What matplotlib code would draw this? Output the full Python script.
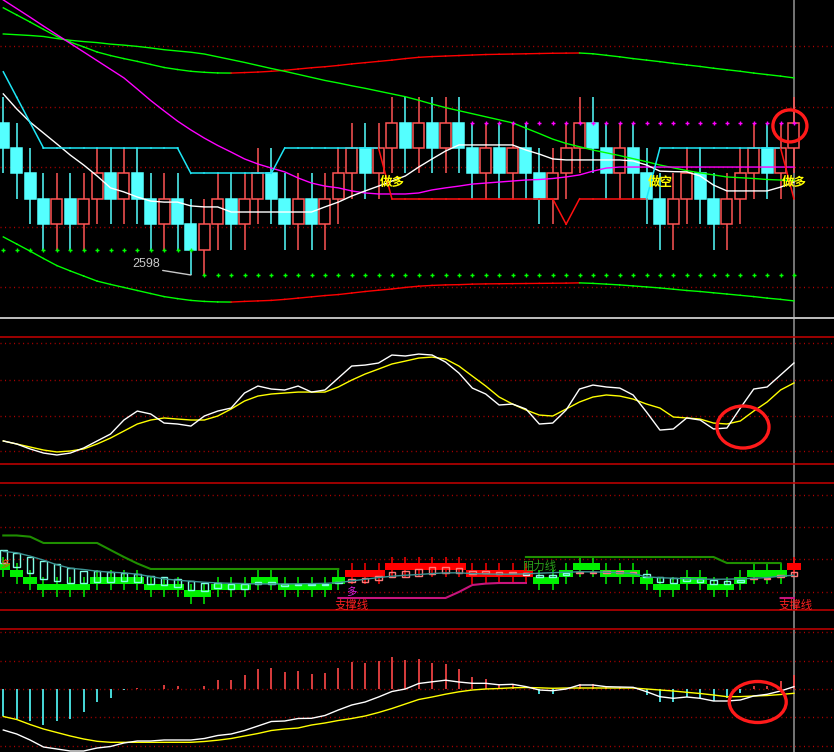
import matplotlib
matplotlib.use('Agg')
import matplotlib.pyplot as plt
from matplotlib.patches import Ellipse
import numpy as np

plt.rcParams['font.family'] = ['Noto Sans CJK SC', 'DejaVu Sans']

# ---------------- data: main panel (grid candles, price levels) ----------------
opens = [6, 5, 4, 3, 2, 3, 2, 3, 4, 3, 4, 3, 2, 3, 2, 1, 2, 3, 2, 3,
         4, 3, 2, 3, 2, 3, 4, 5, 4, 5, 6, 5, 6, 5, 6, 5, 4, 5, 4, 5,
         4, 3, 4, 5, 6, 5, 4, 5, 4, 3, 2, 3, 4, 3, 2, 3, 4, 5, 4, 5]
closes = [5, 4, 3, 2, 3, 2, 3, 4, 3, 4, 3, 2, 3, 2, 1, 2, 3, 2, 3, 4,
          3, 2, 3, 2, 3, 4, 5, 4, 5, 6, 5, 6, 5, 6, 5, 4, 5, 4, 5, 4,
          3, 4, 5, 6, 5, 4, 5, 4, 3, 2, 3, 4, 3, 2, 3, 4, 5, 4, 5, 6]
highs = [7, 6, 5, 4, 4, 4, 4, 5, 5, 5, 5, 4, 4, 4, 3, 3, 4, 4, 4, 5,
         5, 4, 4, 4, 4, 5, 6, 6, 6, 7, 7, 7, 7, 7, 7, 6, 6, 6, 6, 6,
         5, 5, 6, 7, 7, 6, 6, 6, 5, 4, 4, 5, 5, 4, 4, 5, 6, 6, 6, 7]
lows = [4, 3, 2, 1, 1, 1, 1, 2, 2, 2, 2, 1, 1, 1, 0, 0, 1, 1, 1, 2,
        2, 1, 1, 1, 1, 2, 3, 3, 3, 4, 4, 4, 4, 4, 4, 3, 3, 3, 3, 3,
        2, 2, 3, 4, 4, 3, 3, 3, 2, 1, 1, 2, 2, 1, 1, 2, 3, 3, 3, 4]
low_price_label = '2598'

# trailing stop line and its side (1 = long / red, 0 = short / cyan)
stop = [8, 7, 6, 5, 5, 5, 5, 5, 5, 5, 5, 5, 5, 5, 4, 4, 4, 4, 4, 4,
        4, 5, 5, 5, 5, 5, 5, 5, 5, 3, 3, 3, 3, 3, 3, 3, 3, 3, 3, 3,
        3, 3, 2, 3, 3, 3, 3, 3, 3, 5, 5, 5, 5, 5, 5, 5, 5, 5, 5, 3]
stop_side = [0, 0, 0, 0, 0, 0, 0, 0, 0, 0, 0, 0, 0, 0, 0, 0, 0, 0, 0, 0,
             0, 0, 0, 0, 0, 0, 0, 0, 0, 1, 1, 1, 1, 1, 1, 1, 1, 1, 1, 1,
             1, 1, 1, 1, 1, 1, 1, 1, 1, 0, 0, 0, 0, 0, 0, 0, 0, 0, 0, 1]
signal_text = {1: '做多', 0: '做空'}

ma_white = [7.13, 6.54, 6.02, 5.59, 5.16, 4.72, 4.33, 3.90, 3.43, 3.27,
            3.07, 2.91, 2.87, 2.87, 2.72, 2.68, 2.68, 2.48, 2.48, 2.48,
            2.48, 2.48, 2.48, 2.48, 2.68, 2.87, 3.11, 3.31, 3.50, 3.70,
            3.90, 4.25, 4.57, 4.88, 5.12, 5.12, 5.12, 5.12, 5.12, 4.92,
            4.76, 4.57, 4.53, 4.53, 4.53, 4.53, 4.53, 4.49, 4.33, 4.09,
            4.07, 4.06, 3.90, 3.54, 3.31, 3.31, 3.31, 3.31, 3.46, 3.66]
ma_magenta = [10.83, 10.49, 10.15, 9.80, 9.46, 9.12, 8.78, 8.44, 8.10, 7.76,
              7.32, 6.87, 6.46, 6.06, 5.71, 5.39, 5.10, 4.84, 4.57, 4.37,
              4.21, 4.06, 3.82, 3.62, 3.50, 3.43, 3.31, 3.23, 3.19, 3.19,
              3.19, 3.23, 3.35, 3.43, 3.50, 3.58, 3.62, 3.66, 3.70, 3.74,
              3.76, 3.80, 3.86, 3.94, 4.09, 4.21, 4.25, 4.25, 4.25, 4.25,
              4.25, 4.25, 4.25, 4.25, 4.25, 4.25, 4.25, 4.25, 4.25, 4.25]
ma_green = [9.49, 9.46, 9.43, 9.39, 9.31, 9.24, 9.19, 9.15, 9.09, 9.05,
            9.00, 8.94, 8.87, 8.82, 8.77, 8.70, 8.59, 8.48, 8.37, 8.25,
            8.13, 8.02, 7.90, 7.78, 7.66, 7.56, 7.45, 7.35, 7.24, 7.13,
            7.02, 6.88, 6.73, 6.59, 6.47, 6.35, 6.23, 6.11, 5.99, 5.78,
            5.57, 5.35, 5.18, 5.05, 4.92, 4.81, 4.70, 4.58, 4.46, 4.33,
            4.22, 4.11, 4.02, 3.94, 3.86, 3.83, 3.80, 3.76, 3.74, 3.72]
band_up = [10.52, 10.24, 9.96, 9.67, 9.39, 9.17, 8.98, 8.78, 8.64, 8.52,
           8.41, 8.29, 8.17, 8.09, 8.02, 7.98, 7.955, 7.95, 7.97, 7.99,
           8.02, 8.06, 8.11, 8.16, 8.20, 8.25, 8.31, 8.36, 8.41, 8.46,
           8.52, 8.57, 8.60, 8.62, 8.64, 8.66, 8.68, 8.69, 8.70, 8.71,
           8.72, 8.73, 8.735, 8.74, 8.71, 8.65, 8.59, 8.52, 8.46, 8.40,
           8.33, 8.27, 8.21, 8.14, 8.08, 8.02, 7.95, 7.89, 7.83, 7.76]
band_dn = [1.50, 1.22, 0.94, 0.65, 0.37, 0.16, -0.04, -0.24, -0.37, -0.49,
           -0.61, -0.73, -0.85, -0.93, -1.00, -1.04, -1.06, -1.065, -1.04, -1.02,
           -1.00, -0.96, -0.91, -0.86, -0.81, -0.77, -0.71, -0.65, -0.60, -0.55,
           -0.49, -0.44, -0.41, -0.39, -0.38, -0.36, -0.35, -0.345, -0.34, -0.335,
           -0.33, -0.325, -0.32, -0.31, -0.33, -0.36, -0.39, -0.43, -0.47, -0.51,
           -0.56, -0.61, -0.65, -0.70, -0.75, -0.80, -0.85, -0.91, -0.96, -1.02]
nan = np.nan
dots_low = [1] * 15 + [0] * 45
dots_high = [nan] * 35 + [6] * 25

# ---------------- data: KDJ panel ----------------
kdj_k = [9.3, 6.5, 1.9, -1.9, -3.7, -1.9, 2.8, 9.3, 15.7, 28.7,
         37.0, 34.3, 25.9, 25.0, 23.1, 32.4, 37.0, 39.8, 53.7, 60.2,
         57.4, 56.5, 60.2, 54.6, 56.5, 67.6, 78.7, 79.6, 81.5, 88.9,
         88.0, 89.8, 88.9, 82.4, 72.2, 58.3, 52.8, 42.6, 43.5, 38.9,
         25.0, 25.9, 38.0, 57.4, 61.1, 59.3, 58.3, 51.9, 36.1, 19.4,
         20.4, 30.6, 28.7, 20.4, 21.3, 39.8, 57.4, 59.3, 70.4, 81.5]
kdj_d = [9.3, 6.5, 3.7, 0.9, -0.9, 0.0, 1.9, 6.5, 12.0, 18.5,
         25.0, 28.7, 30.6, 29.6, 28.7, 28.7, 32.4, 38.9, 46.3, 50.9,
         52.8, 53.7, 54.6, 54.6, 54.6, 59.3, 65.7, 71.3, 75.9, 80.6,
         83.3, 86.1, 87.0, 85.2, 78.7, 69.4, 60.2, 50.0, 43.5, 38.0,
         33.3, 32.4, 38.9, 45.4, 50.0, 51.9, 50.9, 48.1, 43.5, 39.8,
         31.5, 30.6, 29.6, 25.9, 25.0, 27.8, 37.0, 45.4, 56.5, 63.0]

# ---------------- data: trend panel ----------------
bar_row = [4, 3, 2, 1, 1, 1, 1, 2, 2, 2, 2, 1, 1, 1, 0, 0, 1, 1, 1, 2,
           2, 1, 1, 1, 1, 2, 3, 3, 3, 4, 4, 4, 4, 4, 4, 3, 3, 3, 3, 3,
           2, 2, 3, 4, 4, 3, 3, 3, 2, 1, 1, 2, 2, 1, 1, 2, 3, 3, 3, 4]
bar_up = [0, 0, 0, 0, 0, 0, 0, 0, 0, 0, 0, 0, 0, 0, 0, 0, 0, 0, 0, 0,
          0, 0, 0, 0, 0, 0, 1, 1, 1, 1, 1, 1, 1, 1, 1, 1, 1, 1, 1, 1,
          0, 0, 0, 0, 0, 0, 0, 0, 0, 0, 0, 0, 0, 0, 0, 0, 0, 0, 0, 1]
ha_top = [7.01, 6.52, 5.93, 5.42, 4.93, 4.28, 3.93, 3.93, 3.69, 3.54,
          3.43, 3.13, 2.94, 2.64, 2.34, 2.04, 2.04, 1.94, 1.94, 2.19,
          2.25, 1.94, 1.94, 1.94, 1.94, 2.24, 2.69, 2.88, 3.13, 3.78,
          3.93, 4.18, 4.43, 4.52, 4.28, 3.88, 3.88, 3.69, 3.69, 3.54,
          3.28, 3.28, 3.58, 3.80, 3.80, 3.88, 3.88, 3.73, 3.39, 2.94,
          2.79, 2.79, 2.64, 2.54, 2.39, 2.54, 2.88, 2.88, 3.28, 3.78]
ha_bot = [5.07, 4.52, 3.63, 2.73, 2.43, 2.04, 2.04, 2.28, 2.28, 2.43,
          2.28, 1.94, 1.84, 1.54, 1.04, 0.94, 1.30, 1.24, 1.24, 1.94,
          2.00, 1.69, 1.74, 1.74, 1.74, 2.04, 2.19, 2.28, 2.54, 2.94,
          3.03, 3.18, 3.43, 3.54, 3.63, 3.39, 3.54, 3.43, 3.54, 3.28,
          3.03, 3.03, 3.28, 3.55, 3.55, 3.54, 3.54, 3.54, 3.03, 2.28,
          2.13, 2.43, 2.28, 1.94, 1.94, 2.19, 2.69, 2.69, 2.94, 3.18]
ha_kind = list('cccccccccccccccccccccccccc'
               'pppppppppppppw'
               'cccppppp'
               'ccccccccpppp')
ha_mid = [6.8, 6.6, 6.1, 5.5, 4.8, 4.3, 4.1, 3.85, 3.7, 3.6,
          3.4, 3.05, 2.7, 2.5, 2.35, 2.2, 2.1, 2.04, 2.0, 1.95,
          1.94, 1.95, 1.97, 2.0, 2.03, 2.15, 2.4, 2.65, 2.9, 3.1,
          3.25, 3.35, 3.5, 3.6, 3.6, 3.5, 3.43, 3.4, 3.4, 3.45,
          3.55, 3.63, 3.7, 3.76, 3.75, 3.7, 3.62, 3.5, 3.0, 2.88,
          2.8, 2.73, 2.68, 2.64, 2.66, 2.7, 2.8, 2.9, 3.1, 3.25]
resistance = [9.18, 9.18, 9.0, 8.06, 8.06, 8.06, 8.06, 8.06, 7.01, 5.97,
              5.0, 4.18, 4.18, 4.18, 4.18, 4.18, 4.18, 4.18, 4.18, 4.18,
              4.18, 4.18, 4.18, 4.18, 4.18, 4.18, nan, nan, nan, nan,
              nan, nan, nan, nan, nan, nan, nan, nan, nan, 5.97,
              5.97, 5.97, 5.97, 5.97, 5.97, 5.97, 5.97, 5.97, 5.97, 5.97,
              5.97, 5.97, 5.97, 5.97, 5.07, 5.07, 5.07, 5.07, 5.07, nan]
support = [nan] * 25 + [-0.15, -0.15, -0.15, -0.15, -0.15, -0.15, -0.15, -0.15, -0.15,
                        0.75, 1.79, 2.0, 2.09, 2.09, 2.09] + [nan] * 18 + [-0.15, -0.15]

# ---------------- data: MACD panel ----------------
macd_hist = [-2.7, -3.0, -3.2, -3.6, -3.2, -3.0, -2.3, -1.3, -0.9, -0.1,
             0.1, 0.0, 0.4, 0.3, 0.0, 0.3, 0.9, 0.9, 1.4, 2.0,
             2.1, 1.7, 1.8, 1.5, 1.6, 2.1, 2.7, 2.6, 2.8, 3.2,
             2.9, 3.0, 2.6, 2.5, 2.0, 1.2, 1.0, 0.5, 0.5, 0.0,
             -0.5, -0.5, 0.0, 0.5, 0.5, 0.2, 0.2, 0.0, -0.6, -1.3,
             -1.3, -0.8, -0.9, -1.2, -0.9, -0.4, 0.3, 0.3, 0.8, 1.4]
macd_dif = [-4.1, -4.5, -5.1, -5.8, -6.0, -6.2, -6.2, -5.9, -5.75, -5.4,
            -5.2, -5.2, -5.1, -5.1, -5.1, -4.95, -4.65, -4.5, -4.15, -3.7,
            -3.25, -3.2, -2.95, -2.93, -2.65, -2.1, -1.6, -1.3, -0.8, -0.25,
            0.0, 0.55, 0.72, 0.88, 0.7, 0.57, 0.57, 0.42, 0.47, 0.24,
            -0.1, -0.17, 0.0, 0.4, 0.4, 0.23, 0.2, 0.17, -0.27, -0.77,
            -0.93, -0.8, -0.93, -1.2, -1.2, -1.1, -0.7, -0.53, -0.2, 0.23]
macd_dea = [-2.75, -3.05, -3.55, -4.0, -4.35, -4.7, -5.0, -5.23, -5.33, -5.33,
            -5.33, -5.33, -5.33, -5.33, -5.33, -5.25, -5.12, -4.95, -4.7, -4.45,
            -4.15, -4.0, -3.9, -3.6, -3.4, -3.15, -2.95, -2.7, -2.35, -1.95,
            -1.5, -1.05, -0.8, -0.52, -0.28, -0.1, 0.0, 0.05, 0.12, 0.15,
            0.12, 0.07, 0.1, 0.1, 0.1, 0.1, 0.1, 0.1, 0.0, -0.1,
            -0.2, -0.33, -0.45, -0.6, -0.77, -0.76, -0.7, -0.65, -0.55, -0.43]

# ---------------- layout / style ----------------
W, H = 834, 752
X_LIM = (-0.246, 61.99)
BG = 'black'
DOT_RED = '#b00000'
RED_LINE = '#c80000'
CYAN = '#54ffff'
CANDLE_RED = '#ff5454'
DOTTED = (0, (0.75, 2.5))

x = np.arange(len(closes))
n = len(x)

fig = plt.figure(figsize=(W / 100, H / 100), dpi=100, facecolor=BG)


def add_panel(top_px, bot_px, ylim):
    ax = fig.add_axes([0, 1 - bot_px / H, 1, (bot_px - top_px) / H], zorder=2)
    ax.set_facecolor('none')
    ax.set_xlim(*X_LIM)
    ax.set_ylim(*ylim)
    ax.set_xticks([])
    ax.set_yticks([])
    for s in ax.spines.values():
        s.set_visible(False)
    return ax


def red_edge(ax, which):
    ax.spines[which].set_visible(True)
    ax.spines[which].set_color(RED_LINE)
    ax.spines[which].set_linewidth(1.1)


def dotted(ax, levels):
    for v in levels:
        ax.axhline(v, color=DOT_RED, lw=1.0, ls=DOTTED, zorder=1)


def slope_colored(ax, vals, up_col='#ff0000', dn_col='#00ff00', lw=1.0):
    for i in range(len(vals) - 1):
        col = up_col if vals[i + 1] > vals[i] else dn_col
        ax.plot(x[i:i + 2], vals[i:i + 2], color=col, lw=lw, zorder=4)


# background axes for the cursor line that crosses every panel
bg = fig.add_axes([0, 0, 1, 1], zorder=0)
bg.set_facecolor(BG)
bg.set_xlim(*X_LIM)
bg.axis('off')
bg.axvline(x[-1], color='#8a8a8a', lw=1.2)

# ---------------- main panel ----------------
ax1 = add_panel(0, 318, (-1.693, 10.827))
ax1.spines['bottom'].set_visible(True)
ax1.spines['bottom'].set_color('#c0c0c0')
ax1.spines['bottom'].set_linewidth(1.4)
dotted(ax1, [9.02, 6.61, 4.25, 1.89, -0.47])

is_up = np.array(closes) > np.array(opens)
wick_cols = [CANDLE_RED if u else CYAN for u in is_up]
ax1.vlines(x, lows, highs, colors=wick_cols, lw=1.1, zorder=2)
body_bot = np.minimum(opens, closes)
body_h = np.abs(np.array(closes) - np.array(opens))
ax1.bar(x, body_h, bottom=body_bot, width=0.82,
        color=['black' if u else CYAN for u in is_up],
        edgecolor=wick_cols, lw=1.1, zorder=3)

slope_colored(ax1, band_up)
slope_colored(ax1, band_dn)
ax1.plot(x, ma_green, color='#00ff00', lw=1.0, zorder=4)
ax1.plot(x, ma_magenta, color='#ff00ff', lw=1.0, zorder=4)
ax1.plot(x, ma_white, color='white', lw=1.0, zorder=4)

for i in range(n - 1):
    col = '#ff1010' if stop_side[i + 1] else '#1ee6f5'
    ax1.plot(x[i:i + 2], stop[i:i + 2], color=col, lw=1.1, zorder=4)

ax1.plot(x, dots_low, ls='none', marker='+', ms=3.5, mew=1, color='#00ff00', zorder=4)
ax1.plot(x, dots_high, ls='none', marker='+', ms=3.5, mew=1, color='#ff00ff', zorder=4)

# signal labels where the stop line flips side
for i in range(1, n):
    if stop_side[i] != stop_side[i - 1]:
        ax1.text(x[i], 3.66, signal_text[stop_side[i]], color='#ffff00', fontsize=9,
                 fontweight='bold', ha='center', va='center', zorder=6)

i_low = int(np.argmin(lows))
ax1.annotate(low_price_label, xy=(x[i_low], lows[i_low]), xytext=(-31, 8),
             textcoords='offset pixels', ha='right', va='baseline',
             color='#c8c8c8', fontsize=9, family='Liberation Sans',
             arrowprops=dict(arrowstyle='-', color='#c8c8c8', lw=1,
                             shrinkA=0, shrinkB=0, relpos=(1, 0)), zorder=6)

ax1.add_patch(Ellipse((58.7, 5.87), 2.54, 1.26, fill=False,
                      edgecolor='#ff1a1a', lw=2.4, zorder=7))

# ---------------- KDJ panel ----------------
ax2 = add_panel(337, 464, (-12.04, 105.6))
red_edge(ax2, 'top')
red_edge(ax2, 'bottom')
dotted(ax2, [100, 65.7, 32.4, 0])
ax2.plot(x, kdj_d, color='#ffff00', lw=1.0, zorder=4)
ax2.plot(x, kdj_k, color='white', lw=1.0, zorder=4)
ax2.add_patch(Ellipse((55.2, 22.2), 3.88, 38.9, fill=False,
                      edgecolor='#ff1a1a', lw=2.4, zorder=7))

# ---------------- trend panel ----------------
ax3 = add_panel(483, 610, (-1.94, 17.01))
red_edge(ax3, 'top')
red_edge(ax3, 'bottom')
dotted(ax3, [15.22, 10.45, 5.67, 0.75])

bar_cols = ['#ff0000' if u else '#00f000' for u in bar_up]
rows = np.array(bar_row)
ax3.vlines(x, rows - 1, rows + 2, colors=bar_cols, lw=1.1, zorder=2)
ax3.bar(x, 1, bottom=rows, width=1.0, color=bar_cols, lw=0, zorder=3)

ha_colors = {'c': '#80ffe6', 'p': '#ff7a7a', 'w': '#e8e8e8'}
ha_c = [ha_colors[k] for k in ha_kind]
ax3.bar(x, np.array(ha_top) - np.array(ha_bot), bottom=ha_bot, width=0.5,
        facecolor='none', edgecolor=ha_c, lw=1.0, zorder=4)
ax3.plot(x, ha_mid, color='#3c9494', lw=1.0, zorder=4)
ax3.plot(x, resistance, color='#1f8f00', lw=1.5, zorder=5)
ax3.plot(x, support, color='#c8147c', lw=1.5, zorder=5)

sup_start = int(np.where(~np.isnan(support))[0][0])
res_start = int(np.where(np.isnan(resistance))[0][0]) + 13
ax3.text(x[sup_start] + 1, -1.3, '支撑线', color='#ff2020', fontsize=8.2,
         ha='center', va='center', zorder=6)
ax3.text(x[-1] + 0.1, -1.3, '支撑线', color='#ff2020', fontsize=8.2,
         ha='center', va='center', zorder=6)
ax3.text(x[sup_start] + 1, 0.75, '多', color='#e020e0', fontsize=7.5,
         ha='center', va='center', zorder=6)
ax3.text(x[res_start] + 1, 4.6, '阻力线', color='#2aa01a', fontsize=8.2,
         ha='center', va='center', zorder=6)
ax3.text(X_LIM[0] + 0.02, 4.9, '多', color='#ff4000', fontsize=7,
         ha='left', va='center', zorder=6)

# ---------------- MACD panel ----------------
ax4 = add_panel(629, 752, (-6.3, 6.0))
red_edge(ax4, 'top')
dotted(ax4, [5.7, 2.8, 0, -2.8, -5.7])
hist_cols = ['#ff4848' if v > 0 else CYAN for v in macd_hist]
ax4.vlines(x, 0, macd_hist, colors=hist_cols, lw=1.2, zorder=3)
ax4.plot(x, macd_dea, color='#ffff00', lw=1.0, zorder=4)
ax4.plot(x, macd_dif, color='white', lw=1.0, zorder=4)
ax4.add_patch(Ellipse((56.3, -1.3), 4.25, 4.1, fill=False,
                      edgecolor='#ff1a1a', lw=2.4, zorder=7))

fig.savefig('out.png', dpi=100, facecolor=BG)
